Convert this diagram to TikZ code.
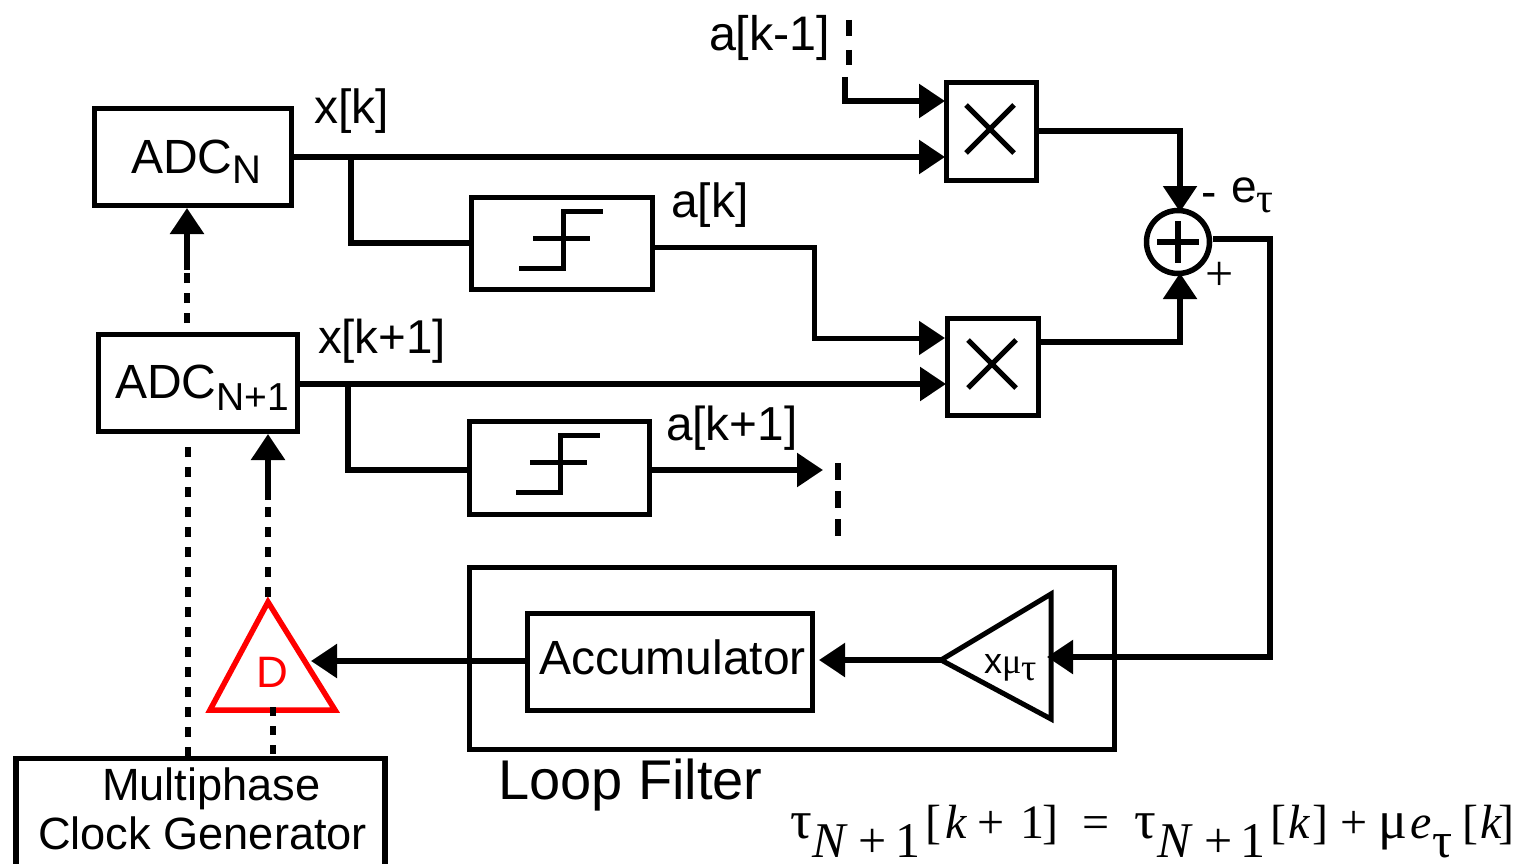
\documentclass[tikz,border=0pt]{standalone}
\usepackage{fontspec}
\setmainfont{Liberation Sans}
\newfontfamily\serifface{Liberation Serif}
\usetikzlibrary{arrows.meta,shapes.geometric}
\newcommand{\fs}[1]{\fontsize{#1}{#1}\selectfont}
\newcommand{\eqat}[2]{\rlap{\kern#1pt #2}}
\newcommand{\eqsub}[2]{\rlap{\kern#1pt \raisebox{-19pt}{\fs{50}#2}}}
\tikzset{
 x=1pt,y=-1pt,
 wire/.style={line width=5.5pt,draw=black,line join=miter},
 dashwire/.style={line width=6pt,draw=black,dash pattern=on 10pt off 10pt},
 tipped/.style={wire,-{Triangle[length=26pt,width=33pt]}},
 blockbox/.style={draw=black,line width=5.5pt,inner sep=0pt,outer sep=0pt,fill=white,align=center},
 lbl/.style={inner sep=0pt,outer sep=0pt,anchor=base west},
}
\begin{document}
\begin{tikzpicture}
\useasboundingbox (0,0) rectangle (1518,864);
\clip (0,0) rectangle (1518,864);
% blocks
\node[blockbox,minimum width=197pt,minimum height=97pt] (adcn) at (193,157) {};
\node[blockbox,minimum width=199pt,minimum height=97pt] (adcm) at (198,383) {};
\node[blockbox,line width=5pt,minimum width=181pt,minimum height=92pt] (dec1) at (561.5,243) {};
\node[blockbox,line width=5pt,minimum width=180pt,minimum height=93pt] (dec2) at (559,467.5) {};
\node[blockbox,minimum width=90pt,minimum height=98pt] (mul1) at (991.5,131.5) {};
\node[blockbox,minimum width=91pt,minimum height=97pt] (mul2) at (993,367) {};
\node[draw=black,line width=5.5pt,circle,inner sep=0pt,outer sep=0pt,minimum size=63pt] (sum) at (1178,242) {};
\node[draw=black,line width=5.5pt,inner sep=0pt,outer sep=0pt,minimum width=645pt,minimum height=182pt] (lf) at (792,658.5) {};
\node[blockbox,minimum width=285pt,minimum height=97pt] (acc) at (670,662) {};
\node[blockbox,minimum width=369pt,minimum height=115pt] (clk) at (200.5,816) {};
% internal symbols
\draw[line width=5pt] (966,105) -- (1014,153) (1014,105) -- (966,153);
\draw[line width=5pt] (968,340) -- (1016,388) (1016,340) -- (968,388);
\draw[line width=5pt] (519,268.5) -- (563,268.5) -- (563,211) -- (603,211) (533,238) -- (590,238);
\draw[line width=5pt] (516,492.5) -- (560,492.5) -- (560,435) -- (600,435) (530,462) -- (587,462);
\draw[line width=5.5pt] (1157,242) -- (1199,242) (1178,221) -- (1178,263);
% triangles
\coordinate (triA) at (941,660);
\coordinate (triB) at (1051,594);
\coordinate (triC) at (1051,719);
\draw[wire,line width=5pt] (triA) -- (triB) -- (triC) -- cycle;
\coordinate (dT) at (268,602);
\coordinate (dL) at (210,710);
\coordinate (dR) at (335,710);
% coordinates for connectors
\coordinate (ak1a) at (849,20);
\coordinate (ak1b) at (849,65);
\coordinate (ak1c) at (845,77);
\coordinate (ak1d) at (845,101);
\coordinate (m1a) at (945,101);
\coordinate (m1b) at (945,157);
\coordinate (xkj) at (351,157);
\coordinate (xkd) at (351,243);
\coordinate (m1o) at (1180,131);
\coordinate (sumt) at (1180,212);
\coordinate (d1o) at (651,247);
\coordinate (d1c) at (814,247);
\coordinate (d1d) at (814,338);
\coordinate (m2a) at (945,338);
\coordinate (m2b) at (946,384);
\coordinate (xmj) at (348,384);
\coordinate (xmd) at (348,470);
\coordinate (xmo) at (300,384);
\coordinate (m1e) at (1038,131);
\coordinate (m2e) at (1040,342);
\coordinate (m2c) at (1180,342);
\coordinate (sumb) at (1180,273);
\coordinate (d2o) at (650,470);
\coordinate (d2e) at (823,470);
\coordinate (dotA) at (838,463);
\coordinate (dotB) at (838,543);
\coordinate (sumo) at (1213,239);
\coordinate (sumc) at (1270,239);
\coordinate (sumd) at (1270,657);
\coordinate (gainin) at (1047,657);
\coordinate (accin) at (819,660);
\coordinate (accout) at (525,661);
\coordinate (delin) at (311,661);
\coordinate (c1) at (188,757);
\coordinate (c2) at (188,437);
\coordinate (c3) at (187,323);
\coordinate (c4) at (187,270);
\coordinate (c5) at (187,208);
\coordinate (c6) at (268,597);
\coordinate (c7) at (268,500);
\coordinate (c8) at (268,434);
\coordinate (c9) at (273,757);
\coordinate (c10) at (273,707);
% connectors
\draw[dashwire,dash pattern=on 16pt off 14pt] (ak1a) -- (ak1b);
\draw[tipped] (ak1c) -- (ak1d) -- (m1a);
\draw[tipped] (adcn.east) -- (m1b);
\draw[wire] (xkj) -- (xkd) -- (dec1.west);
\draw[tipped] (m1e) -- (m1o) -- (sumt);
\draw[tipped,line width=5pt] (d1o) -- (d1c) -- (d1d) -- (m2a);
\draw[tipped] (xmo) -- (m2b);
\draw[wire] (xmj) -- (xmd) -- (dec2.west |- xmd);
\draw[tipped] (m2e) -- (m2c) -- (sumb);
\draw[tipped] (d2o) -- (d2e);
\draw[dashwire,dash pattern=on 17pt off 11pt] (dotA) -- (dotB);
\draw[tipped] (sumo) -- (sumc) -- (sumd) -- (gainin);
\draw[tipped] (triA) -- (accin);
\draw[tipped] (accout) -- (delin);
\draw[dashwire] (c1) -- (c2);
\draw[dashwire] (c3) -- (c4);
\draw[tipped] (c4) -- (c5);
\draw[dashwire] (c6) -- (c7);
\draw[tipped] (c7) -- (c8);
\draw[dashwire,dash pattern=on 9pt off 10pt] (c10) -- (c9);
\draw[red,line width=5.5pt,line join=miter] (dT) -- (dL) -- (dR) -- cycle;
\draw[dashwire,dash pattern=on 9pt off 10pt] (c10) -- ++(0,9);
% labels
\node[lbl] (tadcn) at (131,173) {\fs{48}ADC\raisebox{-10pt}{\fs{40}N}};
\node[lbl] (tadcm) at (115,398) {\fs{48}ADC\raisebox{-12pt}{\fs{39}N+1}};
\node[lbl] (txk) at (314,124) {\fs{48}x[k]};
\node[lbl] (txk1) at (318,353) {\fs{47.5}x[k+1]};
\node[lbl] (tak) at (671,217) {\fs{48}a[k]};
\node[lbl] (tak1) at (666,440) {\fs{47.7}a[k+1]};
\node[lbl] (takm) at (709,51) {\fs{48.5}a[k-1]};
\node[lbl] (tminus) at (1201,207) {\fs{46}-};
\node[lbl] (te) at (1231,202) {\fs{46}e\raisebox{-10pt}{\fs{42}\serifface τ}};
\node[lbl] (tplus) at (1205,290) {\fs{50}\serifface +};
\node[lbl] (tacc) at (539,674) {\fs{48}Accumulator};
\node[lbl] (tgain) at (984,673) {\fs{36}x{\serifface μ}\raisebox{-7pt}{\fs{38}\serifface τ}};
\node[lbl,red] (tD) at (256,687) {\fs{44}D};
\node[lbl] (tm1) at (102,800) {\fs{45.2}Multiphase};
\node[lbl] (tm2) at (38,849) {\fs{45.2}Clock Generator};
\node[lbl] (tlf) at (498,799) {\fs{56}Loop Filter};
\node[lbl] (teq) at (790,838) {\fs{48}\serifface
 \eqat{0}{\fs{54}τ}\eqsub{22}{\textit{N}}\eqsub{68}{+}\eqsub{105}{1}%
 \eqat{135}{[}\eqat{155}{\textit{k}}\eqat{187}{+}\eqat{230}{1}\eqat{252}{]}%
 \eqat{292}{=}\eqat{344}{\fs{54}τ}\eqsub{367}{\textit{N}}\eqsub{414}{+}\eqsub{450}{1}%
 \eqat{480}{[}\eqat{498}{\textit{k}}\eqat{522}{]}\eqat{550}{+}\eqat{588}{\fs{54}μ}\eqat{620}{\textit{e}}%
 \eqsub{642}{τ}\eqat{672}{[}\eqat{690}{\textit{k}}\eqat{708}{]}};
\end{tikzpicture}
\end{document}
